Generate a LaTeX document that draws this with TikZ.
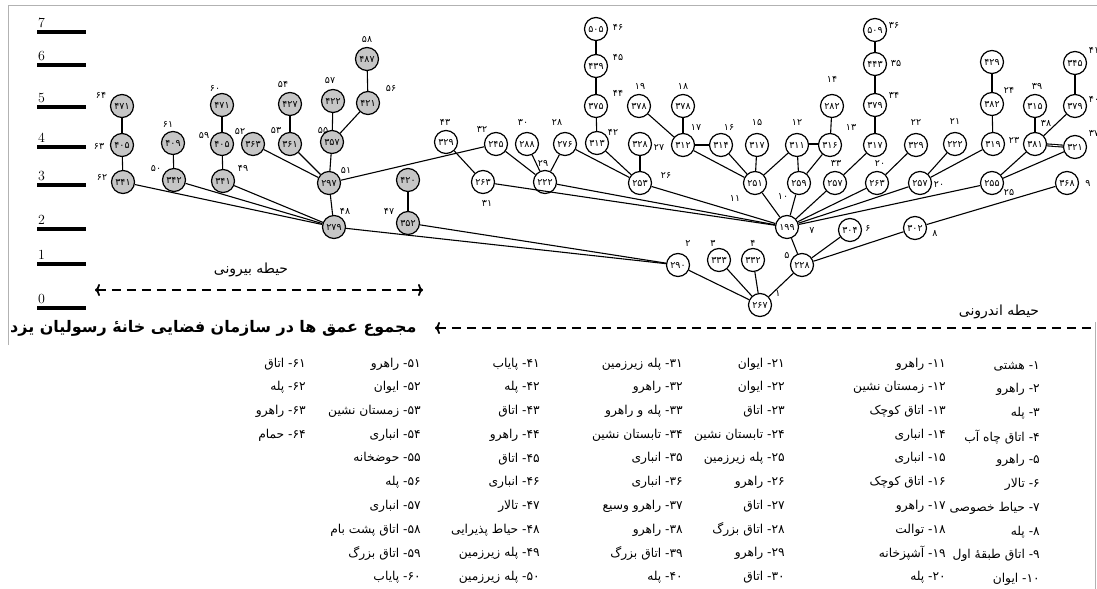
\documentclass[tikz,border=0pt]{standalone}
\usepackage{fontspec}
\usetikzlibrary{arrows.meta}
\newfontfamily\fa[Script=Arabic]{DejaVu Sans}
\TeXXeTstate=1
\newcommand\lgent[2]{\beginR #1\kern0pt-\ #2\endR}
\begin{document}
\begin{tikzpicture}[x=1bp,y=-1bp,
  nd/.style={circle, draw, line width=1.2bp, minimum size=23bp, inner sep=0pt, fill=white, font=\fa\fontsize{9.5}{9.5}\selectfont},
  og/.style={nd, fill=gray!45},
  lb/.style={inner sep=0pt, font=\fa\fontsize{9.5}{9.5}\selectfont},
  ed/.style={line width=1.1bp},
  dbl/.style={line width=1.1bp, double, double distance=0.8bp},
  lg/.style={inner sep=0pt, anchor=east, font=\fa\fontsize{12.3}{12.3}\selectfont},
  scl/.style={inner sep=0pt, anchor=south west, font=\fontsize{14}{14}\selectfont},
  bar/.style={line width=4bp},
  dsh/.style={line width=1.8bp, dash pattern=on 9bp off 6bp},
  zn/.style={inner sep=0pt, font=\fa\fontsize{14}{14}\selectfont},
  frm/.style={gray!60, line width=0.8bp}]
\useasboundingbox (0,0) rectangle (1097,589);
% frame
\draw[frm] (8,345) -- (8,5) -- (1097,5);
\draw[frm] (1095,322) -- (1095,589);
% scale
\foreach \v/\y in {7/32,6/65,5/107,4/147,3/185,2/229,1/264,0/308}{
  \node[scl] (s\v) at (38,\y-4) {\v};
  \draw[bar] (37,\y) -- (86,\y);
}
% outer nodes
\foreach \n/\x/\y/\t in {a64/122/106/۴۷۱, a63/122/145/۴۰۵, a62/123/182/۳۴۱, a61/173/143/۴۰۹, a50/174/180/۳۴۲,
  a60/222/105/۴۷۱, a59/222/144/۴۰۵, a49/223/181/۳۴۱, a52/253/144/۳۶۳, a54/290/104/۴۲۷, a53/290/144/۳۶۱,
  a57/333/101/۴۲۲, a55/332/142/۳۵۷, a56/368/103/۴۲۱, a58/367/59/۴۸۷, a51/329/183/۲۹۷, a48/334/227/۲۷۹,
  a00/408/180/۴۲۰, a47/408/223/۳۵۲}
  \node[og] (\n) at (\x,\y) {\t};
% inner nodes
\foreach \n/\x/\y/\t in {b43/446/142/۳۲۹, b32/496/144/۲۴۵, b30/527/144/۲۸۸, b28/565/144/۲۷۶, b31/483/182/۲۶۳,
  b29/545/182/۲۲۲, b46/596/29/۵۰۵, b45/596/66/۴۳۹, b44/596/106/۳۷۵, b42/597/143/۳۱۳, b19/639/106/۳۷۸,
  b18/683/106/۳۷۸, b27/640/144/۳۲۸, b26/640/183/۲۵۳, b17/683/145/۳۱۲, b16/721/145/۳۱۴, b15/757/145/۳۱۷,
  b11/755/183/۲۵۱, b12/797/145/۳۱۱, b14/832/106/۲۸۲, b13/830/145/۳۱۶, b10/799/183/۲۵۹, b33/835/183/۲۵۷,
  b36/875/30/۵۰۹, b35/875/64/۴۴۳, b34/875/105/۳۷۹, b00/875/145/۳۱۷, b20/877/183/۲۶۳, b22/916/145/۳۲۹,
  b01/920/183/۲۵۷, b21/955/144/۲۲۲, b23/993/144/۳۱۹, b24/992/104/۳۸۲, b02/992/62/۴۲۹, b25/992/183/۲۵۵,
  b38/1035/144/۳۸۱, b39/1035/106/۳۱۵, b40/1075/106/۳۷۹, b41/1075/63/۳۴۵, b37/1075/147/۳۲۱, b9/1067/183/۳۶۸,
  b7/787/227/۱۹۹, b6/850/230/۳۰۴, b8/915/228/۳۰۲, b5/802/265/۲۲۸, b2/678/265/۲۹۰, b3/719/260/۳۳۳,
  b4/753/260/۳۳۲, b1/760/305/۲۶۷}
  \node[nd] (\n) at (\x,\y) {\t};
% labels
\foreach \n/\x/\y/\t in {l64/101/95/۶۴, l63/99/146/۶۳, l62/102/177/۶۲, l61/168/124/۶۱, l50/156/168/۵۰,
  l60/215/88/۶۰, l59/204/135/۵۹, l49/243/168/۴۹, l52/240/131/۵۲, l54/283/84/۵۴, l53/276/130/۵۳,
  l57/330/80/۵۷, l55/323/130/۵۵, l56/391/88/۵۶, l58/367/39/۵۸, l51/346/170/۵۱, l48/345/211/۴۸, l47/389/211/۴۷,
  l43/445/122/۴۳, l32/482/129/۳۲, l30/523/122/۳۰, l28/557/122/۲۸, l31/487/203/۳۱, l29/543/163/۲۹,
  l46/618/27/۴۶, l45/618/57/۴۵, l44/618/93/۴۴, l42/613/132/۴۲, l19/640/86/۱۹, l18/683/86/۱۸,
  l27/659/147/۲۷, l26/666/175/۲۶, l17/696/127/۱۷, l16/729/127/۱۶, l15/757/122/۱۵, l11/735/198/۱۱,
  l12/797/122/۱۲, l14/832/79/۱۴, l13/851/127/۱۳, l10/783/196/۱۰, l33/836/163/۳۳, l36/894/25/۳۶,
  l35/896/63/۳۵, l34/894/95/۳۴, l20/880/163/۲۰, l22/916/122/۲۲, l20b/939/184/۲۰, l21/955/121/۲۱,
  l23/1014/140/۲۳, l24/1009/90/۲۴, l25/1009/192/۲۵, l38/1046/123/۳۸, l39/1037/86/۳۹, l40/1094/99/۴۰,
  l41/1094/50/۴۱, l37/1094/133/۳۷, l9/1088/183/۹, l7/812/230/۷, l6/868/228/۶, l8/935/233/۸,
  l5/787/255/۵, l2/688/243/۲, l3/713/243/۳, l4/753/243/۴, l1/778/293/۱}
  \node[lb] (\n) at (\x,\y) {\t};
% edges
\foreach \a/\b in {a64/a63, a63/a62, a62/a48, a61/a50, a50/a48, a60/a59, a59/a49, a49/a48, a52/a51,
  a54/a53, a53/a51, a57/a55, a56/a55, a58/a56, a55/a51, a51/a48, a51/b32, a00/a47, a47/b2, a48/b2,
  b43/b31, b31/b7, b32/b29, b30/b29, b28/b29, b28/b26, b29/b7, b46/b45, b45/b44, b44/b42, b42/b26,
  b27/b26, b26/b7, b19/b17, b18/b17, b17/b16, b17/b11, b16/b11, b15/b11, b12/b11, b12/b10, b14/b13,
  b13/b10, b11/b7, b10/b7, b36/b35, b35/b34, b34/b00, b00/b33, b33/b7, b22/b20, b20/b7, b21/b01,
  b23/b01, b24/b23, b02/b24, b01/b7, b39/b38, b40/b38, b41/b40, b38/b25, b37/b25, b25/b7,
  b7/b5, b6/b5, b8/b5, b9/b8, b5/b1, b2/b1, b3/b1, b4/b1}
  \draw[ed] (\a) -- (\b);
\draw[dbl] (b12) -- (b13);
\draw[dbl] (b38) -- (b37);
% zones
\node[zn] (zo) at (251,270) {\beginR حیطه بیرونی\endR};
\node[zn] (zi) at (999,312) {\beginR حیطه اندرونی\endR};
\coordinate (d1) at (95,290); \coordinate (d2) at (423,290);
\draw[dsh, {To[length=5bp,width=12bp]}-{To[length=5bp,width=12bp]}] (d1) -- (d2);
\coordinate (d3) at (435,328); \coordinate (d4) at (1093,328);
\draw[dsh, {To[length=5bp,width=12bp]}-] (d3) -- (d4);
% title
\node[inner sep=0pt, anchor=west, font=\fa\bfseries\fontsize{16}{16}\selectfont] (title) at (10,328) {\beginR مجموع عمق ها در سازمان فضایی خانهٔ رسولیان یزد\endR};
% legend
\foreach \t [count=\i from 0] in {{\lgent{۱}{هشتی}},{\lgent{۲}{راهرو}},{\lgent{۳}{پله}},{\lgent{۴}{اتاق چاه آب}},{\lgent{۵}{راهرو}},{\lgent{۶}{تالار}},{\lgent{۷}{حیاط خصوصی}},{\lgent{۸}{پله}},{\lgent{۹}{اتاق طبقهٔ اول}},{\lgent{۱۰}{ایوان}}}
  \node[lg] (A\i) at (1040,366+23.7*\i) {\t};
\foreach \t [count=\i from 0] in {{\lgent{۱۱}{راهرو}},{\lgent{۱۲}{زمستان نشین}},{\lgent{۱۳}{اتاق کوچک}},{\lgent{۱۴}{انباری}},{\lgent{۱۵}{انباری}},{\lgent{۱۶}{اتاق کوچک}},{\lgent{۱۷}{راهرو}},{\lgent{۱۸}{توالت}},{\lgent{۱۹}{آشپزخانه}},{\lgent{۲۰}{پله}}}
  \node[lg] (B\i) at (946,364+23.7*\i) {\t};
\foreach \t [count=\i from 0] in {{\lgent{۲۱}{ایوان}},{\lgent{۲۲}{ایوان}},{\lgent{۲۳}{اتاق}},{\lgent{۲۴}{تابستان نشین}},{\lgent{۲۵}{پله زیرزمین}},{\lgent{۲۶}{راهرو}},{\lgent{۲۷}{اتاق}},{\lgent{۲۸}{اتاق بزرگ}},{\lgent{۲۹}{راهرو}},{\lgent{۳۰}{اتاق}}}
  \node[lg] (C\i) at (785,364+23.7*\i) {\t};
\foreach \t [count=\i from 0] in {{\lgent{۳۱}{پله زیرزمین}},{\lgent{۳۲}{راهرو}},{\lgent{۳۳}{پله و راهرو}},{\lgent{۳۴}{تابستان نشین}},{\lgent{۳۵}{انباری}},{\lgent{۳۶}{انباری}},{\lgent{۳۷}{راهرو وسیع}},{\lgent{۳۸}{راهرو}},{\lgent{۳۹}{اتاق بزرگ}},{\lgent{۴۰}{پله}}}
  \node[lg] (D\i) at (683,364+23.7*\i) {\t};
\foreach \t [count=\i from 0] in {{\lgent{۴۱}{پایاب}},{\lgent{۴۲}{پله}},{\lgent{۴۳}{اتاق}},{\lgent{۴۴}{راهرو}},{\lgent{۴۵}{اتاق}},{\lgent{۴۶}{انباری}},{\lgent{۴۷}{تالار}},{\lgent{۴۸}{حیاط پذیرایی}},{\lgent{۴۹}{پله زیرزمین}},{\lgent{۵۰}{پله زیرزمین}}}
  \node[lg] (E\i) at (540,364+23.7*\i) {\t};
\foreach \t [count=\i from 0] in {{\lgent{۵۱}{راهرو}},{\lgent{۵۲}{ایوان}},{\lgent{۵۳}{زمستان نشین}},{\lgent{۵۴}{انباری}},{\lgent{۵۵}{حوضخانه}},{\lgent{۵۶}{پله}},{\lgent{۵۷}{انباری}},{\lgent{۵۸}{اتاق پشت بام}},{\lgent{۵۹}{اتاق بزرگ}},{\lgent{۶۰}{پایاب}}}
  \node[lg] (F\i) at (421,364+23.7*\i) {\t};
\foreach \t [count=\i from 0] in {{\lgent{۶۱}{اتاق}},{\lgent{۶۲}{پله}},{\lgent{۶۳}{راهرو}},{\lgent{۶۴}{حمام}}}
  \node[lg] (G\i) at (306,364+23.7*\i) {\t};
\end{tikzpicture}
\end{document}
